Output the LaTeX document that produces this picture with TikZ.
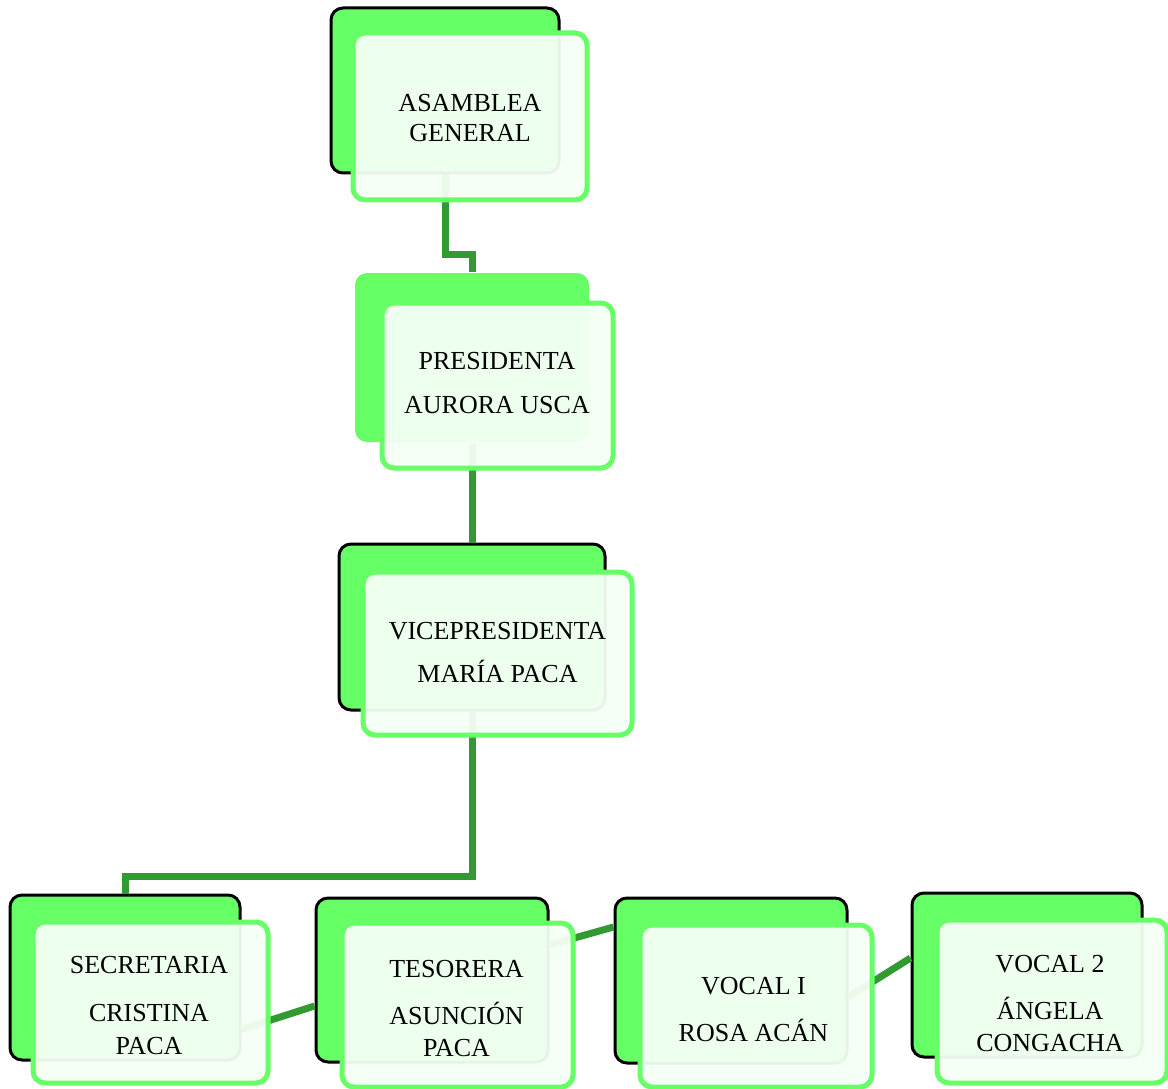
\documentclass[tikz,border=0pt]{standalone}
\usepackage{fontspec}
\setmainfont{Liberation Serif}
\usepackage{tikz}
\definecolor{lgreen}{HTML}{66FF66}
\definecolor{dgreen}{HTML}{339933}
\definecolor{pale}{HTML}{F5FFF5}

\begin{document}
\begin{tikzpicture}[x=1pt,y=-1pt,
  back/.style={rectangle,rounded corners=12pt,fill=lgreen,draw=black,line width=3pt,inner sep=0pt},
  backplain/.style={back,draw=none},
  front/.style={rectangle,rounded corners=12pt,fill=pale,fill opacity=0.95,draw=lgreen,line width=5pt,inner sep=0pt},
  lbl/.style={align=center,font=\fontsize{26}{30}\selectfont,inner sep=0pt},
  link/.style={draw=dgreen,line width=7pt}]
\useasboundingbox (0,0) rectangle (1168,1089);

\node[back,minimum width=228pt,minimum height=165pt] (asamB) at (445,90.5) {};
\node[backplain,minimum width=234pt,minimum height=169pt] (presB) at (472,357.5) {};
\node[back,minimum width=266pt,minimum height=166pt] (viceB) at (472,627) {};
\node[back,minimum width=230pt,minimum height=165pt] (secB) at (125,977.5) {};
\node[back,minimum width=232pt,minimum height=164pt] (tesB) at (432,980) {};
\node[back,minimum width=232pt,minimum height=165pt] (vocIB) at (731,980.5) {};
\node[back,minimum width=230pt,minimum height=164pt] (vocIIB) at (1027,975) {};

\draw[link] (asamB.south)--++(0,80)-|(presB.north);
\draw[link] (presB.south)--(viceB.north);
\draw[link] (viceB.south)--++(0,165)-|(secB.north);
\draw[link] ([yshift=-52pt]secB.east)--([yshift=-26pt]tesB.west);
\draw[link] ([yshift=35pt]tesB.east)--([yshift=53.5pt]vocIB.west);
\draw[link] ([yshift=-16.5pt]vocIB.east)--([yshift=17pt]vocIIB.west);

\node[front,minimum width=234pt,minimum height=167pt] (asamF) at (470,116.5) {};
\node[front,minimum width=231pt,minimum height=165pt] (presF) at (497.5,385.5) {};
\node[front,minimum width=269pt,minimum height=163pt] (viceF) at (497.5,653.5) {};
\node[front,minimum width=235pt,minimum height=161pt] (secF) at (150.5,1002.5) {};
\node[front,minimum width=231pt,minimum height=164pt] (tesF) at (457.5,1005) {};
\node[front,minimum width=232pt,minimum height=162pt] (vocIF) at (756,1006) {};
\node[front,minimum width=230pt,minimum height=163pt] (vocIIF) at (1052,1001.5) {};

\node[lbl] (asamT) at (470,118.5) {ASAMBLEA\\GENERAL};
\node[lbl] (presT) at (497,383.5) {PRESIDENTA\\[14pt]AURORA USCA};
\node[lbl] (viceT) at (497.5,653) {VICEPRESIDENTA\\[13pt]MARÍA PACA};
\node[lbl] (secT) at (149,1006) {SECRETARIA\\[18pt]CRISTINA\\[3pt]PACA};
\node[lbl] (tesT) at (456.5,1009) {TESORERA\\[17pt]ASUNCIÓN\\[2pt]PACA};
\node[lbl] (vocIT) at (753.5,1010) {VOCAL I\\[17pt]ROSA ACÁN};
\node[lbl] (vocIIT) at (1050,1004) {VOCAL 2\\[17pt]ÁNGELA\\[2pt]CONGACHA};
\end{tikzpicture}
\end{document}
